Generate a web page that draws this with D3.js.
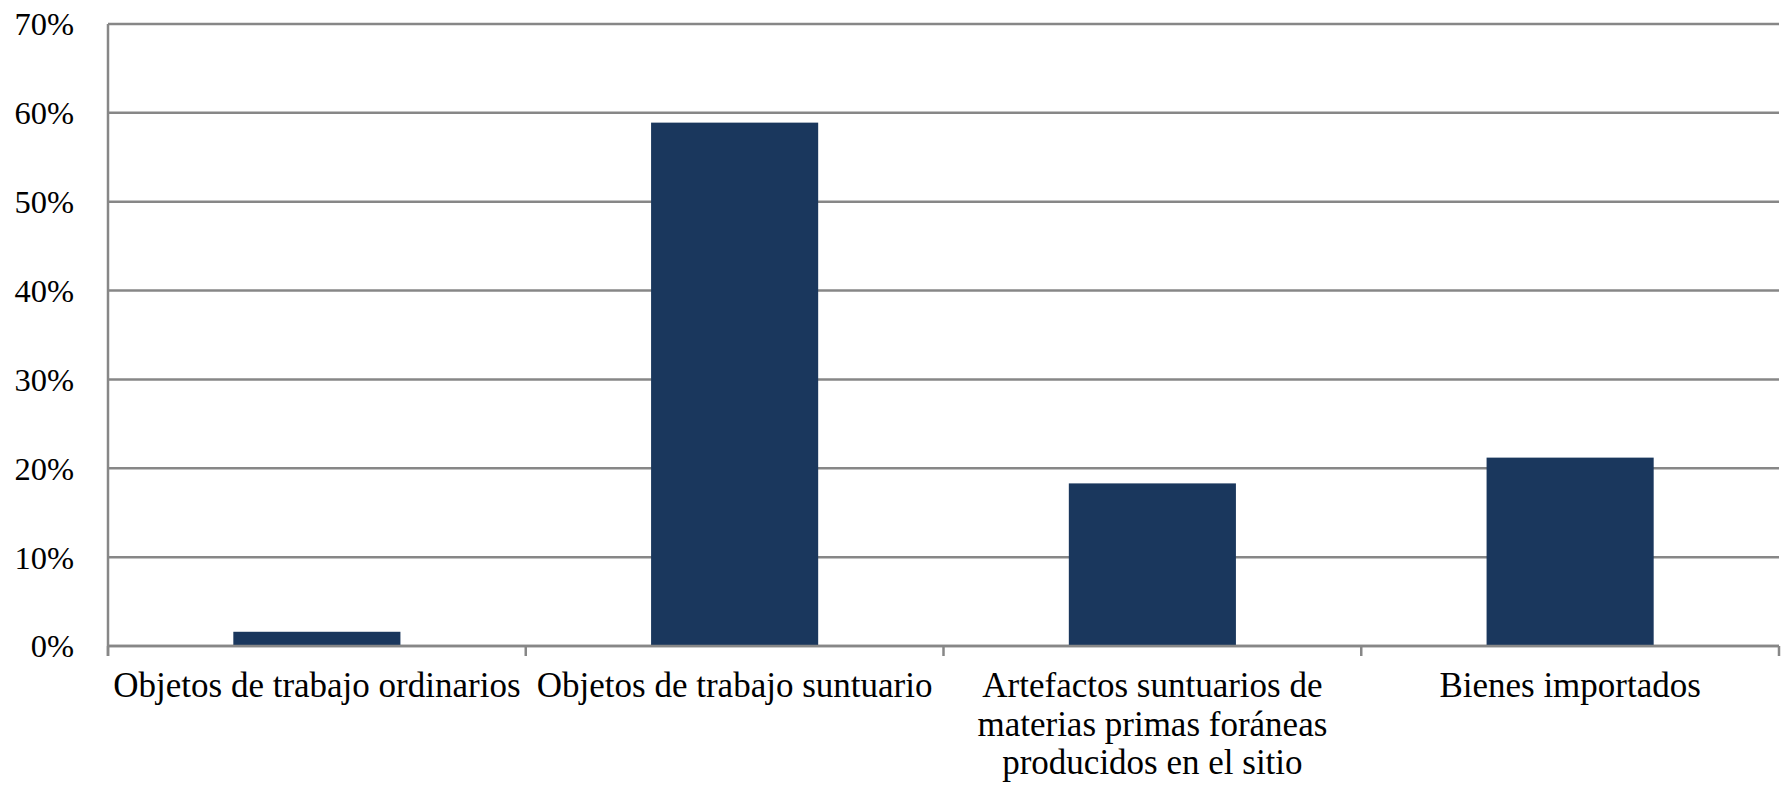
<!DOCTYPE html>
<html>
<head>
<meta charset="utf-8">
<script src="https://cdn.jsdelivr.net/npm/d3@7"></script>
<style>
  html, body { margin: 0; padding: 0; background: #fff; }
  svg { display: block; }
</style>
</head>
<body>
<svg id="chart" width="1781" height="786"></svg>
<script>
// Categories and their share of the assemblage (percent)
const categories = [
  ["Objetos de trabajo ordinarios"],
  ["Objetos de trabajo suntuario"],
  ["Artefactos suntuarios de", "materias primas foráneas", "producidos en el sitio"],
  ["Bienes importados"]
];
const values = [1.6, 58.9, 18.3, 21.2];
const yTicks = [0, 10, 20, 30, 40, 50, 60, 70];
const yTickLabels = ["0%", "10%", "20%", "30%", "40%", "50%", "60%", "70%"];

const FONT = "'Liberation Serif', Tinos, 'Times New Roman', 'DejaVu Serif', serif";

const svg = d3.select("#chart");
const margin = { top: 24, right: 2, bottom: 140, left: 108 };
const width = 1781 - margin.left - margin.right;
const height = 786 - margin.top - margin.bottom;

const g = svg.append("g").attr("transform", `translate(${margin.left},${margin.top})`);

const keys = categories.map((c, i) => i);
const x = d3.scaleBand().domain(keys).range([0, width]).paddingInner(0.6).paddingOuter(0.3);
const xb = d3.scaleBand().domain(keys).range([0, width]).padding(0);
const y = d3.scaleLinear().domain([0, 70]).range([height, 0]);

const gridColor = "#878787";

// horizontal gridlines
g.append("g")
  .selectAll("line")
  .data(yTicks)
  .join("line")
  .attr("x1", 0).attr("x2", width)
  .attr("y1", d => y(d)).attr("y2", d => y(d))
  .attr("stroke", gridColor)
  .attr("stroke-width", 2.5);

// y labels
g.append("g")
  .selectAll("text")
  .data(yTicks)
  .join("text")
  .attr("x", -34)
  .attr("y", d => y(d))
  .attr("dy", "0.35em")
  .attr("text-anchor", "end")
  .style("font-family", FONT)
  .style("font-size", "32.5px")
  .attr("fill", "#000")
  .text((d, i) => yTickLabels[i]);

// bars
g.append("g")
  .selectAll("rect")
  .data(values)
  .join("rect")
  .attr("x", (d, i) => x(i))
  .attr("width", x.bandwidth())
  .attr("y", d => y(d))
  .attr("height", d => y(0) - y(d))
  .attr("fill", "#1a375d");

// axis lines
g.append("line")
  .attr("x1", 0).attr("x2", 0)
  .attr("y1", y(70)).attr("y2", height + 10)
  .attr("stroke", gridColor).attr("stroke-width", 2.5);

g.append("line")
  .attr("x1", 0).attr("x2", width)
  .attr("y1", height).attr("y2", height)
  .attr("stroke", gridColor).attr("stroke-width", 2.5);

// category boundary ticks
const bounds = keys.map(k => xb(k)).concat([width]);
g.append("g")
  .selectAll("line")
  .data(bounds)
  .join("line")
  .attr("x1", d => d).attr("x2", d => d)
  .attr("y1", height).attr("y2", height + 10)
  .attr("stroke", gridColor).attr("stroke-width", 2.5);

// category labels
const labels = g.append("g")
  .selectAll("text")
  .data(categories)
  .join("text")
  .attr("text-anchor", "middle")
  .style("font-family", FONT)
  .style("font-size", "35px")
  .attr("fill", "#000")
  .attr("transform", (d, i) => `translate(${xb(i) + xb.bandwidth() / 2},${height + 51})`);

labels.selectAll("tspan")
  .data(d => d)
  .join("tspan")
  .attr("x", 0)
  .attr("dy", (d, i) => i === 0 ? 0 : 38.5)
  .text(d => d);
</script>
</body>
</html>
